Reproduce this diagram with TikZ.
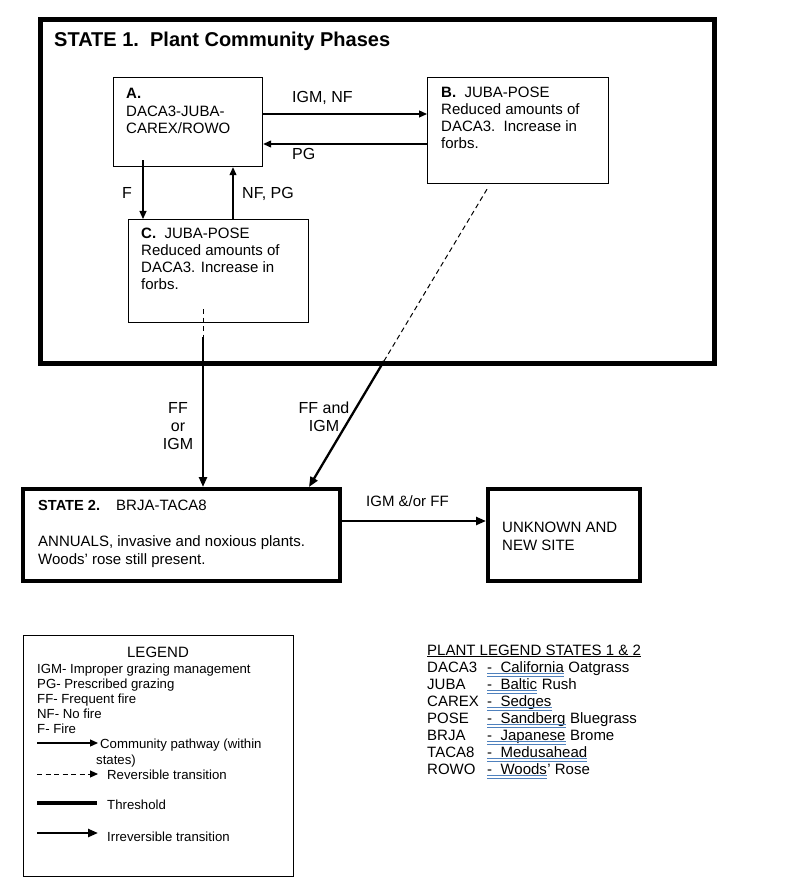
\documentclass[tikz,border=0pt]{standalone}
\usepackage{fontspec}
\setmainfont{Liberation Sans}
\usetikzlibrary{arrows.meta}
\definecolor{spellblue}{RGB}{79,129,189}
\begin{document}
\begin{tikzpicture}[x=1pt,y=-1pt,
	statebox/.style={draw,anchor=north west,inner sep=0pt},
	phasebox/.style={draw,line width=1.2pt,anchor=north west,inner sep=0pt},
	boxtext/.style={anchor=north west,inner sep=0pt,align=left,font=\fontsize{15}{17}\selectfont},
	arrowlabel/.style={inner sep=0pt,font=\fontsize{16}{18}\selectfont},
	legendtext/.style={anchor=base west,inner sep=0pt,font=\fontsize{13.2}{15}\selectfont},
	plantname/.style={anchor=base west,inner sep=0pt,font=\fontsize{15}{17}\selectfont},
	pathway/.style={line width=1.2pt,-{Triangle[length=8pt,width=7pt]}},
	reversible/.style={line width=1pt,dash pattern=on 5pt off 3.5pt},
	irreversible/.style={line width=2.3pt,-{Triangle[length=10pt,width=8pt]}},
	spell/.style={draw=spellblue,line width=0.9pt}]
	\useasboundingbox (0,0) rectangle (800,882);
	%State 1 outer box
	\node [statebox,line width=5pt,minimum width=674,minimum height=344] (S1) at (38,17) {};
	\node [anchor=north west,inner sep=0pt,font=\fontsize{20}{22}\selectfont\bfseries] (S1title) at (54,32) {STATE 1.\ \ Plant Community Phases};
	%Community phases
	\node [phasebox,minimum width=149,minimum height=89] (A) at (113,77) {};
	\node [boxtext,font=\fontsize{15}{17.5}\selectfont] (Atext) at (126,88) {\textbf{A.}\\DACA3-JUBA-\\CAREX/ROWO};
	\node [phasebox,minimum width=181,minimum height=106] (B) at (427,77) {};
	\node [boxtext] (Btext) at (441,87) {\textbf{B.}\ \ JUBA-POSE\\Reduced amounts of\\DACA3.\ \ Increase in\\forbs.};
	\node [phasebox,minimum width=180,minimum height=103] (C) at (128,219) {};
	\node [boxtext] (Ctext) at (141,228) {\textbf{C.}\ \ JUBA-POSE\\Reduced amounts of\\DACA3. Increase in\\forbs.};
	%Pathways within state 1
	\draw [pathway] ([yshift=7pt]A.south -| 143,0) -- (C.north -| 143,0);
	\draw [pathway] (C.north -| 233,0) -- (A.south -| 233,0);
	\draw [pathway] (A.east |- 0,114) -- (B.west |- 0,114);
	\draw [pathway] (B.west |- 0,144) -- (A.east |- 0,144);
	\node [arrowlabel,anchor=north west] (lblAB) at (292,91) {IGM, NF};
	\node [arrowlabel,anchor=north west] (lblBA) at (292,148) {PG};
	\node [arrowlabel,anchor=north west] (lblAC) at (122,187) {F};
	\node [arrowlabel,anchor=north west] (lblCA) at (242,187) {NF, PG};
	%State 2 and unknown site
	\node [statebox,line width=3.5pt,minimum width=317,minimum height=92] (S2) at (21,487) {};
	\node [anchor=base west,inner sep=0pt,font=\fontsize{14.6}{17}\selectfont\bfseries] (S2title) at (38,510) {STATE 2.};
	\node [anchor=base west,inner sep=0pt,font=\fontsize{15}{17}\selectfont] (S2name) at (116,510) {BRJA-TACA8};
	\node [boxtext,font=\fontsize{15}{18}\selectfont] (S2text) at (38,535) {ANNUALS, invasive and noxious plants.\\Woods’ rose still present.};
	\node [statebox,line width=3.5pt,minimum width=152,minimum height=92] (U) at (486,487) {};
	\node [boxtext,font=\fontsize{15}{18}\selectfont] (Utext) at (502,522) {UNKNOWN AND\\NEW SITE};
	%Transitions between states
	\coordinate (Cbreak) at (203,337);
	\coordinate (Bbreak) at (384,361);
	\draw [reversible] ([yshift=14pt]C.south -| Cbreak) -- (Cbreak);
	\draw [irreversible] (Cbreak) -- (S2.north -| Cbreak);
	\draw [reversible] ([yshift=-5pt]B.south -| 487,0) -- (Bbreak);
	\draw [irreversible] (Bbreak) -- (S2.north -| 309,0);
	\draw [irreversible] (S2.east |- 0,521) -- (U.west |- 0,521);
	\node [arrowlabel,anchor=north,align=center] (lblC2) at (178,402) {FF\\or\\IGM};
	\node [arrowlabel,anchor=north,align=center] (lblB2) at (324,402) {FF and\\IGM};
	\node [arrowlabel,anchor=north west,font=\fontsize{15}{17}\selectfont] (lbl2U) at (366,495) {IGM \&/or FF};
	%Legend
	\node [draw,line width=1pt,anchor=north west,inner sep=0pt,minimum width=270,minimum height=241] (L) at (23,635) {};
	\node [anchor=base,inner sep=0pt,font=\fontsize{15}{17}\selectfont] (Ltitle) at (158,657) {LEGEND};
	\foreach \txt [count=\i from 0] in {IGM- Improper grazing management,PG- Prescribed grazing,FF- Frequent fire,NF- No fire,F- Fire} {
		\node [legendtext] (leg\i) at (37,{673+15*\i}) {\txt};
	}
	\coordinate (pathL) at (37,743);
	\coordinate (pathR) at (98,743);
	\draw [pathway] (pathL) -- (pathR);
	\node [legendtext] (pathtxt) at (100,748) {Community pathway (within};
	\node [legendtext] (pathtxt2) at (96,764) {states)};
	\coordinate (revL) at (37,774);
	\coordinate (revR) at (98,774);
	\draw [reversible,-{Triangle[length=8pt,width=7pt]}] (revL) -- (revR);
	\node [legendtext] (revtxt) at (107,779) {Reversible transition};
	\coordinate (thrL) at (37,803);
	\coordinate (thrR) at (97,803);
	\draw [line width=4pt] (thrL) -- (thrR);
	\node [legendtext] (thrtxt) at (107,809) {Threshold};
	\coordinate (irrL) at (37,833);
	\coordinate (irrR) at (98,833);
	\draw [irreversible] (irrL) -- (irrR);
	\node [legendtext] (irrtxt) at (107,841) {Irreversible transition};
	%Plant legend
	\node [plantname] (planttitle) at (427,655) {\underline{PLANT LEGEND STATES 1 \& 2}};
	\foreach \code/\plant/\rest [count=\i] in {DACA3/California/{\ Oatgrass},JUBA/Baltic/{\ Rush},CAREX/Sedges/{},POSE/Sandberg/{\ Bluegrass},BRJA/Japanese/{\ Brome},TACA8/Medusahead/{},ROWO/Woods/{’ Rose}} {
		\node [plantname] (code\i) at (427,{655+17*\i}) {\code};
		\node [plantname] (name\i) at (487,{655+17*\i}) {-\ \ \plant};
		\node [plantname] (rest\i) at (name\i.base east) {\rest};
		\draw [spell] ([yshift=-1.5pt]name\i.base west) -- ([yshift=-1.5pt]name\i.base east);
		\draw [spell] ([yshift=-4.5pt]name\i.base west) -- ([yshift=-4.5pt]name\i.base east);
	}
\end{tikzpicture}
\end{document}
